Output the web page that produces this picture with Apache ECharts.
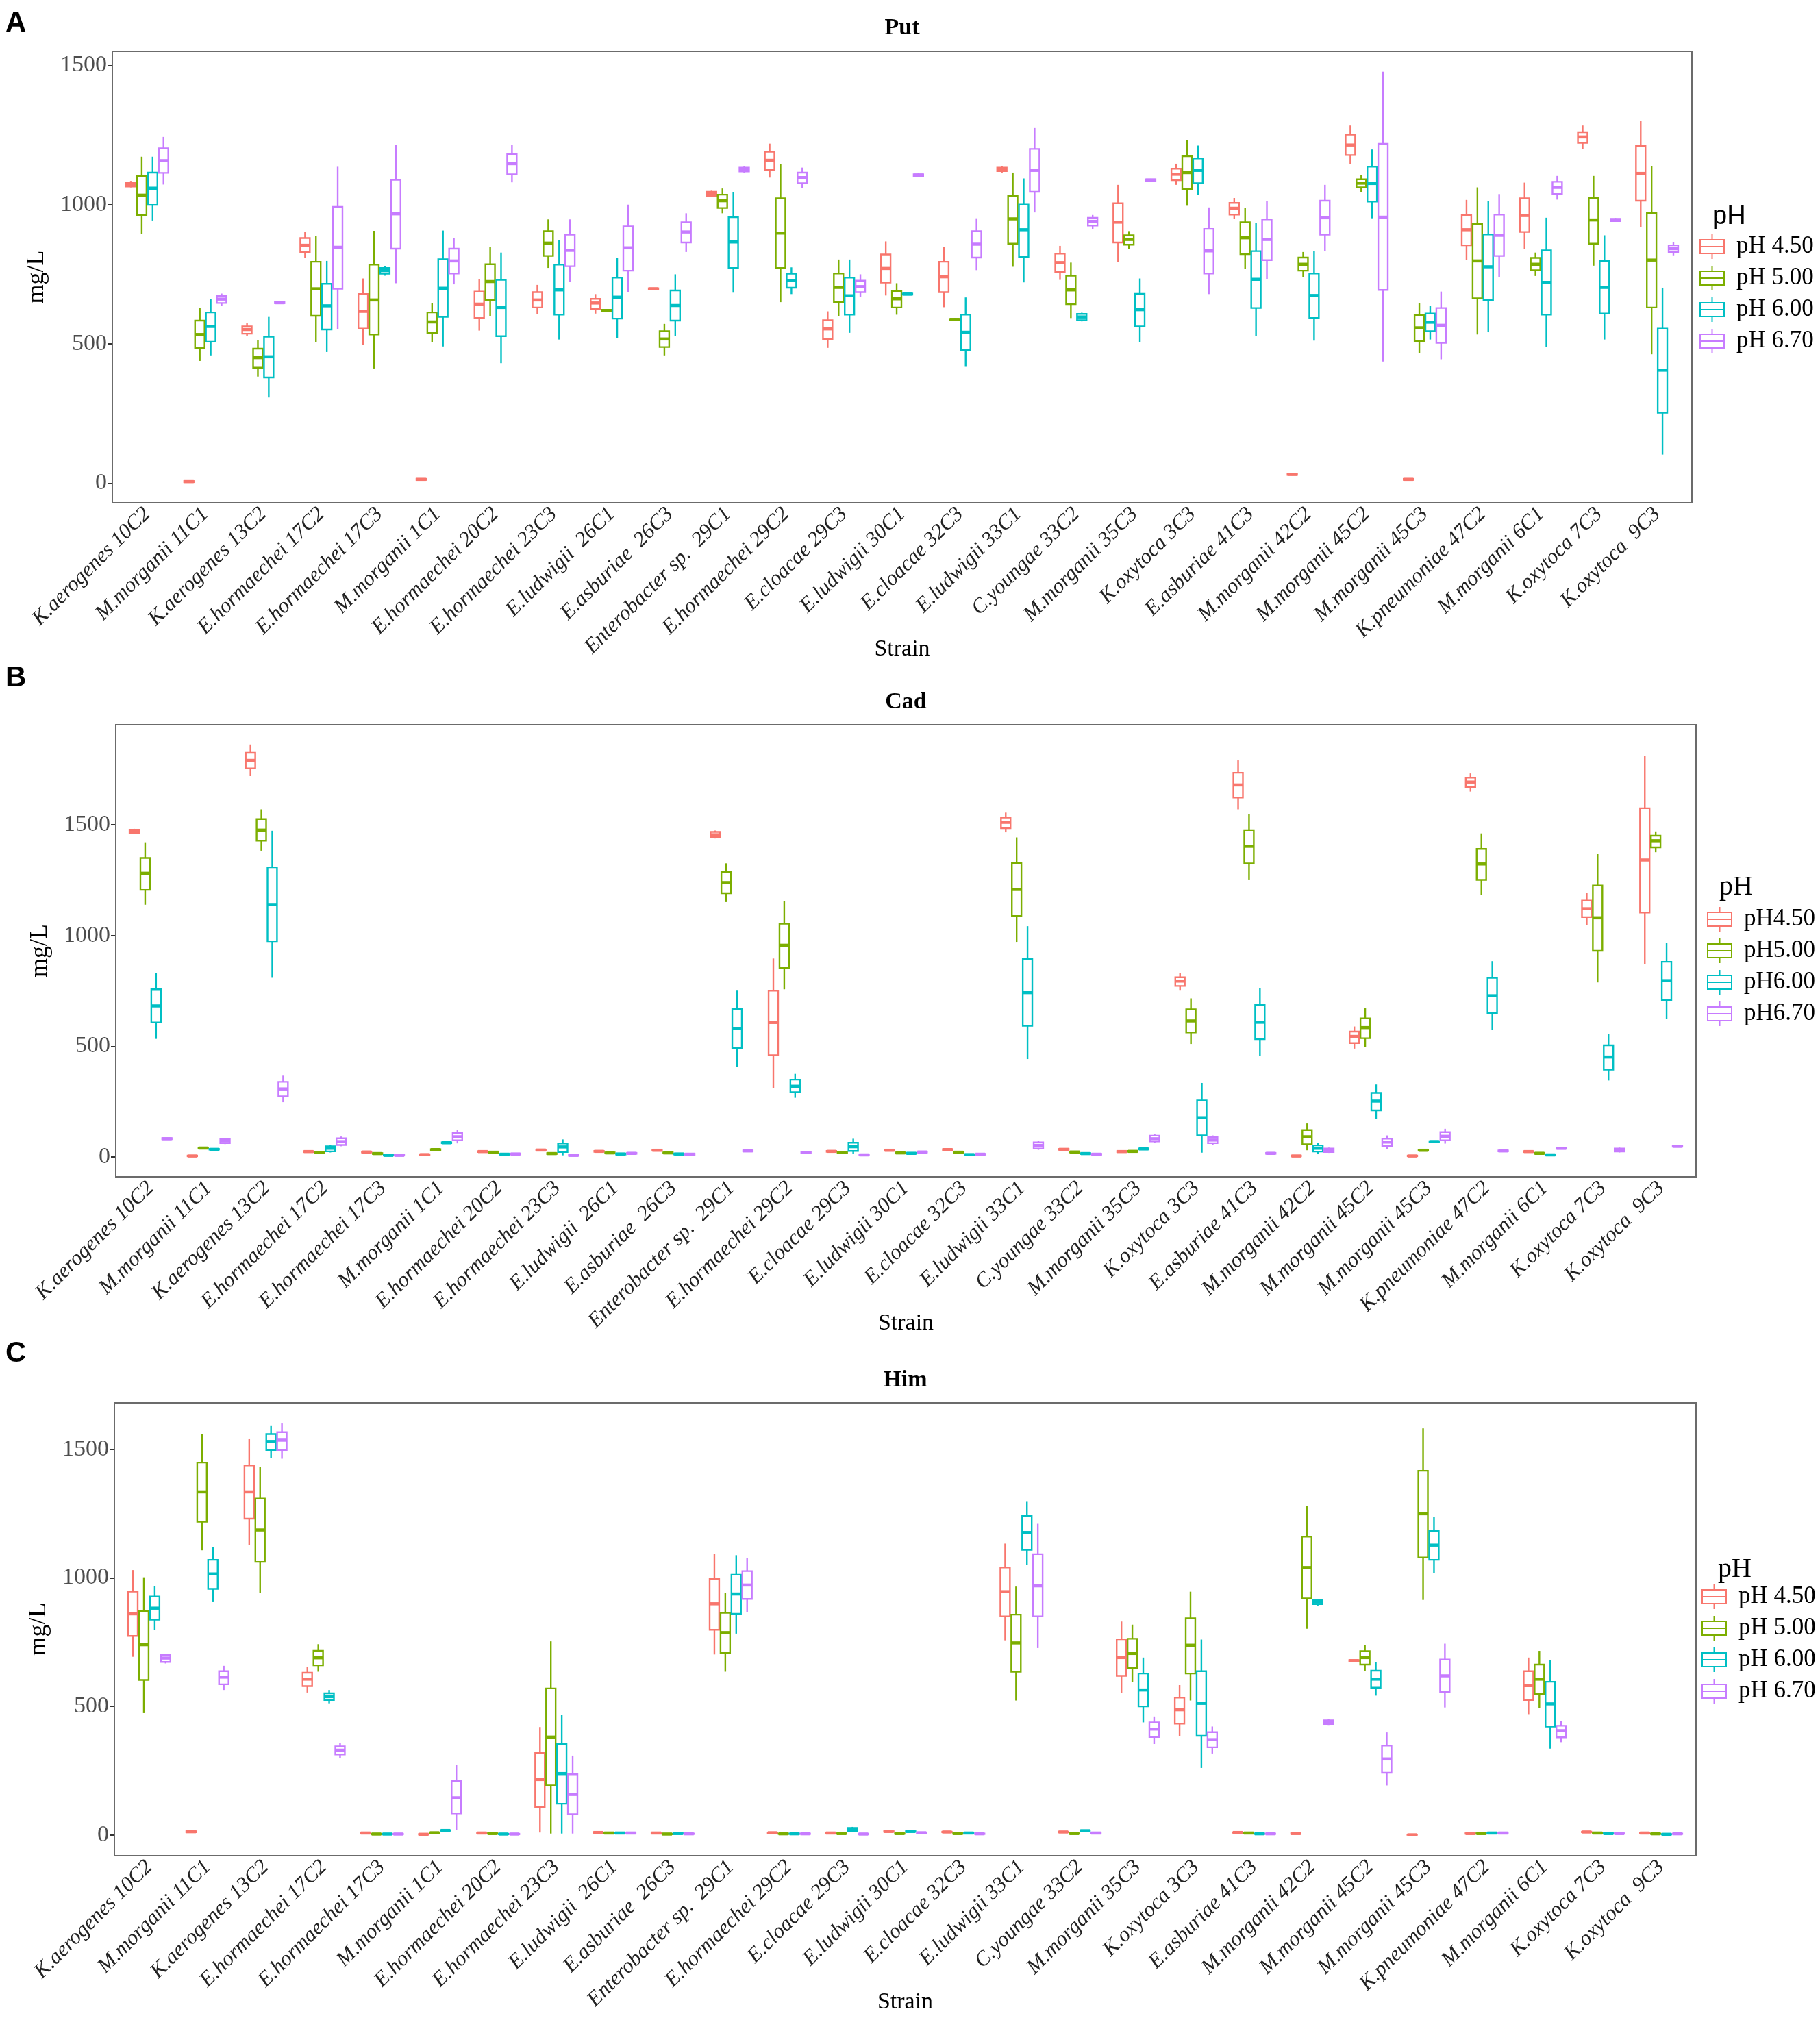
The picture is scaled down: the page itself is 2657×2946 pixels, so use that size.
<!DOCTYPE html>
<html>
<head>
<meta charset="utf-8">
<script src="https://cdn.jsdelivr.net/npm/echarts@6/dist/echarts.min.js"></script>
<style>
html, body { margin: 0; padding: 0; background: #fff; }
#chart { width: 2657px; height: 2946px; }
</style>
</head>
<body>
<div id="chart"></div>
<script>
// strains on the x axis (same order in all three panels)
var strains = ['K.aerogenes 10C2', 'M.morganii 11C1', 'K.aerogenes 13C2', 'E.hormaechei 17C2',
    'E.hormaechei 17C3', 'M.morganii 1C1', 'E.hormaechei 20C2', 'E.hormaechei 23C3',
    'E.ludwigii  26C1', 'E.asburiae  26C3', 'Enterobacter sp.  29C1', 'E.hormaechei 29C2',
    'E.cloacae 29C3', 'E.ludwigii 30C1', 'E.cloacae 32C3', 'E.ludwigii 33C1', 'C.youngae 33C2',
    'M.morganii 35C3', 'K.oxytoca 3C3', 'E.asburiae 41C3', 'M.morganii 42C2', 'M.morganii 45C2',
    'M.morganii 45C3', 'K.pneumoniae 47C2', 'M.morganii 6C1', 'K.oxytoca 7C3', 'K.oxytoca  9C3'];

var yTicks = [0, 500, 1000, 1500];
var phColors = ['#F8766D', '#7CAE00', '#00BFC4', '#C77CFF'];
var putNames = ['pH 4.50', 'pH 5.00', 'pH 6.00', 'pH 6.70'];
var cadNames = ['pH4.50', 'pH5.00', 'pH6.00', 'pH6.70'];
var himNames = ['pH 4.50', 'pH 5.00', 'pH 6.00', 'pH 6.70'];

// each row: [min, Q1, median, Q3, max] in mg/L, one row per strain
// Put
var put45 = [[1062,1065,1073,1080,1085],[2,4,6,8,10],[528,537,552,563,574],[810,830,854,880,902],
    [496,555,617,679,735],[10,12,14,16,18],[548,593,643,688,732],[607,631,658,686,712],
    [609,625,647,662,679],[694,696,698,700,702],[1028,1032,1040,1046,1050],[1097,1125,1159,1190,1219],
    [486,518,554,585,617],[674,720,771,821,868],[632,686,741,795,848],[1115,1120,1127,1133,1137],
    [730,759,792,824,852],[795,864,937,1005,1071],[1071,1088,1109,1129,1147],[949,964,987,1006,1024],
    [28,30,32,34,36],[1145,1178,1214,1251,1284],[10,12,14,16,18],[801,854,910,963,1017],
    [842,902,961,1023,1079],[1200,1222,1243,1260,1284],[919,1014,1112,1210,1301]];
var put50 = [[894,963,1034,1103,1172],[439,486,534,584,629],[383,415,451,483,514],[507,601,698,795,887],
    [412,534,658,785,906],[507,540,579,613,647],[599,658,724,786,848],[773,816,862,905,947],
    [615,617,620,623,625],[459,489,518,546,572],[969,988,1014,1036,1058],[650,773,898,1023,1145],
    [601,650,703,753,803],[605,631,662,690,718],[583,586,588,590,593],[777,860,949,1032,1115],
    [593,643,694,745,792],[842,856,875,890,905],[996,1056,1115,1174,1231],[769,822,881,937,988],
    [741,763,786,810,830],[1046,1062,1077,1091,1107],[466,510,558,603,647],[534,664,798,931,1062],
    [744,765,786,809,828],[781,860,945,1024,1103],[463,631,801,970,1139]];
var put60 = [[943,999,1059,1115,1172],[459,508,563,613,661],[308,380,454,526,597],[471,552,637,716,798],
    [745,752,763,773,780],[491,597,700,804,907],[431,528,631,730,828],[516,605,694,785,872],
    [520,591,668,738,810],[528,584,638,692,750],[684,773,866,955,1044],[679,702,728,752,775],
    [540,605,673,738,803],[676,677,679,681,682],[418,478,542,605,667],[721,813,910,1000,1094],
    [581,585,597,608,612],[507,563,623,680,735],[1034,1077,1123,1166,1212],[528,629,732,833,934],
    [512,593,674,753,833],[951,1011,1076,1136,1198],[516,546,578,609,638],[542,658,777,893,1012],
    [490,605,721,836,953],[516,609,703,798,890],[103,253,406,555,702]];
var put67 = [[1072,1114,1158,1202,1243],[638,647,661,673,681],[645,646,648,650,651],[554,698,847,992,1136],
    [718,842,967,1089,1214],[714,753,798,842,880],[1080,1109,1147,1182,1214],[724,779,836,892,947],
    [686,763,845,922,1000],[830,864,902,937,969],[1115,1119,1127,1133,1138],[1059,1077,1097,1115,1133],
    [670,686,706,727,750],[1100,1103,1106,1109,1112],[765,810,858,905,951],[972,1046,1123,1200,1275],
    [913,925,940,953,963],[1083,1085,1088,1091,1093],[679,753,834,913,990],[732,801,875,947,1014],
    [834,892,953,1014,1071],[437,694,955,1218,1477],[445,504,567,629,688],[741,816,890,964,1038],
    [1018,1038,1062,1082,1103],[938,941,945,949,952],[818,830,842,854,866]];

// Cad
var cad45 = [[1460,1463,1472,1478,1482],[2,3,4,6,7],[1720,1755,1791,1825,1863],[20,22,24,26,28],
    [18,20,22,24,26],[6,8,10,12,14],[20,22,24,26,28],[27,29,31,33,35],
    [21,23,25,27,29],[26,28,30,32,34],[1438,1444,1455,1468,1474],[312,459,607,751,896],
    [21,23,25,27,29],[26,28,30,32,34],[29,31,33,35,37],[1466,1485,1511,1533,1555],
    [30,32,34,36,38],[20,22,24,26,28],[754,772,794,811,829],[1570,1623,1680,1735,1791],
    [2,3,4,6,7],[489,514,544,566,589],[2,3,4,6,7],[1650,1671,1693,1713,1732],
    [20,22,24,26,28],[1046,1083,1121,1158,1191],[871,1103,1341,1575,1810]];
var cad50 = [[1139,1206,1281,1350,1421],[36,38,40,42,44],[1383,1428,1476,1526,1570],[15,17,19,21,23],
    [11,13,15,17,19],[29,31,33,35,37],[17,19,21,23,25],[11,13,15,17,19],
    [14,16,18,20,22],[14,16,18,20,22],[1151,1191,1239,1286,1326],[757,854,956,1053,1154],
    [15,17,19,21,23],[14,16,18,20,22],[17,19,21,23,25],[971,1088,1208,1328,1443],
    [18,20,22,24,26],[21,23,25,27,29],[510,562,614,667,716],[1253,1326,1403,1476,1548],
    [30,57,91,121,151],[495,536,584,626,671],[26,28,30,32,34],[1184,1251,1323,1391,1461],
    [12,14,16,18,20],[788,931,1080,1226,1368],[1376,1398,1428,1451,1470]];
var cad60 = [[533,607,682,757,832],[31,33,34,36,38],[809,974,1140,1308,1473],[20,25,39,48,55],
    [4,6,7,9,10],[60,62,64,66,68],[8,10,12,14,16],[7,22,45,61,79],
    [9,11,13,15,17],[9,11,13,15,17],[405,492,580,668,754],[267,292,319,349,375],
    [15,27,46,64,82],[12,14,16,18,20],[6,8,10,12,14],[442,592,742,893,1042],
    [11,13,15,17,19],[32,34,36,38,40],[19,97,177,255,334],[457,532,608,686,761],
    [12,24,39,52,64],[172,210,252,289,327],[65,67,69,71,73],[574,649,728,809,884],
    [5,7,9,11,13],[345,394,451,504,554],[623,709,796,881,967]];
var cad67 = [[78,80,82,85,87],[58,62,72,80,84],[247,274,307,339,367],[48,54,69,84,92],
    [4,6,7,9,10],[61,75,91,109,121],[9,11,13,15,17],[3,5,7,9,11],
    [12,14,16,18,20],[8,10,12,14,16],[23,25,27,29,31],[15,17,19,21,23],
    [5,7,9,11,13],[18,20,22,24,26],[8,10,12,14,16],[32,38,52,66,72],
    [8,10,12,14,16],[62,70,82,96,104],[55,62,76,90,97],[12,14,16,18,20],
    [18,22,31,38,42],[34,49,67,82,97],[60,75,93,112,127],[23,25,27,29,31],
    [35,37,39,41,43],[20,24,31,38,42],[44,46,48,50,52]];

// Him
var him45 = [[693,774,860,946,1030],[9,11,13,15,17],[1128,1230,1334,1437,1539],[554,579,606,631,654],
    [6,7,8,9,10],[1,2,3,4,5],[6,7,8,9,10],[10,109,216,319,420],
    [8,9,10,11,12],[6,7,8,9,10],[702,798,899,995,1094],[7,8,9,10,11],
    [6,7,8,9,10],[12,13,14,15,16],[10,11,12,13,14],[757,850,946,1040,1133],
    [10,11,12,13,14],[551,619,690,761,830],[386,433,487,534,583],[8,9,10,11,12],
    [4,5,6,7,8],[675,676,678,680,682],[0,1,1,2,3],[4,5,6,7,8],
    [470,525,581,637,690],[10,11,12,13,14],[6,7,8,9,10]];
var him50 = [[474,603,740,870,1002],[1107,1218,1334,1448,1559],[940,1062,1186,1308,1430],[635,660,689,716,742],
    [2,3,4,5,6],[7,8,9,10,11],[4,5,6,7,8],[6,193,381,570,753],
    [6,7,8,9,10],[2,3,4,5,6],[635,709,787,864,940],[3,4,5,6,7],
    [4,5,6,7,8],[4,5,6,7,8],[4,5,6,7,8],[523,635,747,857,966],
    [4,5,6,7,8],[596,650,706,763,818],[523,628,738,843,946],[6,7,8,9,10],
    [802,920,1040,1160,1278],[639,663,690,715,740],[914,1079,1249,1416,1581],[4,5,6,7,8],
    [493,548,606,663,716],[6,7,8,9,10],[3,4,5,6,7]];
var him60 = [[796,837,882,927,967],[908,957,1015,1070,1120],[1465,1497,1530,1559,1590],[512,525,538,551,564],
    [2,3,4,5,6],[16,17,18,19,20],[2,3,4,5,6],[6,122,239,354,467],
    [6,7,8,9,10],[4,5,6,7,8],[783,860,937,1012,1088],[3,4,5,6,7],
    [12,15,22,28,32],[12,13,14,15,16],[6,7,8,9,10],[1049,1109,1176,1240,1298],
    [15,16,17,18,19],[438,500,564,628,690],[261,386,512,637,760],[3,4,5,6,7],
    [892,898,906,913,918],[542,573,606,639,671],[1017,1070,1127,1182,1237],[6,7,8,9,10],
    [336,422,510,596,680],[4,5,6,7,8],[1,2,3,4,5]];
var him67 = [[667,673,688,700,705],[564,586,614,637,658],[1463,1497,1535,1566,1600],[300,313,330,345,358],
    [2,3,4,5,6],[21,84,145,210,272],[2,3,4,5,6],[6,81,158,236,309],
    [6,7,8,9,10],[3,4,5,6,7],[866,918,972,1026,1076],[3,4,5,6,7],
    [2,3,4,5,6],[7,8,9,10,11],[3,4,5,6,7],[727,850,969,1092,1210],
    [6,7,8,9,10],[354,381,412,438,461],[317,341,371,400,422],[3,4,5,6,7],
    [428,432,439,446,450],[193,242,296,348,399],[496,557,619,682,744],[6,7,8,9,10],
    [361,380,406,425,444],[4,5,6,7,8],[3,4,5,6,7]];

// panel layout (pixel boxes of the framed plot areas)
var panels = [
    { letter: 'A', letterY: 34, title: 'Put', titleY: 41, names: putNames, sets: [put45, put50, put60, put67],
      box: [164, 75, 2470, 734], yMin: -70, yMax: 1550,
      legendX: 2481, legendY: 341, phX: 2500, phY: 317, phFont: '38px "Liberation Sans"' },
    { letter: 'B', letterY: 990, title: 'Cad', titleY: 1025, names: cadNames, sets: [cad45, cad50, cad60, cad67],
      box: [169, 1058, 2476, 1718], yMin: -90, yMax: 1952,
      legendX: 2492, legendY: 1323, phX: 2510, phY: 1295, phFont: '40px "Liberation Serif"' },
    { letter: 'C', letterY: 1976, title: 'Him', titleY: 2015, names: himNames, sets: [him45, him50, him60, him67],
      box: [167, 2048, 2476, 2709], yMin: -80, yMax: 1680,
      legendX: 2484, legendY: 2312, phX: 2508, phY: 2291, phFont: '40px "Liberation Serif"' }
];

var serif = 'Liberation Serif';
// key glyph: 35x20 box with median and short whiskers
var legendIcon = 'path://M17.5,0L17.5,8M0,8L35,8L35,28L0,28ZM0,18L35,18M17.5,28L17.5,36';

// ggplot-like dodged box: 4 slots share 75% of the band, no whisker caps
function makeBox(slot) {
    var col = phColors[slot];
    return function (params, api) {
        var i = api.value(0);
        var band = api.size([1, 0])[0];
        var w = band * 0.75 / 4;
        var cx = api.coord([i, 0])[0] + (slot - 1.5) * w;
        var y = [1, 2, 3, 4, 5].map(function (d) { return api.coord([i, api.value(d)])[1]; });
        var line = { stroke: col, lineWidth: 2.4 };
        return {
            type: 'group',
            children: [
                { type: 'line', shape: { x1: cx, y1: y[4], x2: cx, y2: y[3] }, style: line },
                { type: 'line', shape: { x1: cx, y1: y[1], x2: cx, y2: y[0] }, style: line },
                { type: 'rect', shape: { x: cx - w / 2 + 1, y: y[3], width: w - 2, height: y[1] - y[3] },
                  style: { fill: '#fff', stroke: col, lineWidth: 2.4 } },
                { type: 'line', shape: { x1: cx - w / 2 + 1, y1: y[2], x2: cx + w / 2 - 1, y2: y[2] },
                  style: { stroke: col, lineWidth: 4.5 } }
            ]
        };
    };
}

var option = {
    backgroundColor: '#fff',
    animation: false,
    grid: [], xAxis: [], yAxis: [], series: [], legend: [], graphic: []
};

// ggplot expands a discrete axis 0.6 units each side; echarts gives 0.5, so inset the grid by 0.1
panels.forEach(function (p, pi) {
    var b = p.box;
    var unit = (b[2] - b[0]) / 27.2;
    var inset = unit * 0.1;
    option.grid.push({
        left: b[0] + inset, top: b[1], width: b[2] - b[0] - 2 * inset, height: b[3] - b[1],
        show: false, containLabel: false
    });
    option.xAxis.push({
        type: 'category', gridIndex: pi, data: strains,
        name: 'Strain', nameLocation: 'middle', nameGap: 197, nameMoveOverlap: false,
        nameTextStyle: { fontFamily: serif, fontSize: 34, color: '#000' },
        axisLine: { show: false },
        axisTick: { alignWithLabel: true, length: 7, lineStyle: { color: '#333', width: 2 } },
        axisLabel: { rotate: 45, interval: 0, margin: 12, fontFamily: serif, fontStyle: 'italic',
            fontSize: 31, color: '#222' },
        splitLine: { show: false }
    });
    option.yAxis.push({
        type: 'value', gridIndex: pi, min: p.yMin, max: p.yMax, offset: inset,
        name: 'mg/L', nameLocation: 'middle', nameGap: 92, nameMoveOverlap: false,
        nameTextStyle: { fontFamily: serif, fontSize: 36, color: '#000' },
        axisLine: { show: false },
        axisTick: { show: true, length: 7, customValues: yTicks, lineStyle: { color: '#333', width: 2 } },
        axisLabel: { customValues: yTicks, margin: 8, fontFamily: serif, fontSize: 34, color: '#4d4d4d',
            formatter: function (v) { return String(v); } },
        splitLine: { show: false }
    });
    p.sets.forEach(function (rows, k) {
        option.series.push({
            type: 'custom', name: p.names[k], xAxisIndex: pi, yAxisIndex: pi,
            itemStyle: { color: '#fff', borderColor: phColors[k], borderWidth: 2 },
            encode: { x: 0, y: [1, 2, 3, 4, 5] },
            data: rows.map(function (r, i) { return [i].concat(r); }),
            renderItem: makeBox(k)
        });
    });
    option.legend.push({
        orient: 'vertical', left: p.legendX, top: p.legendY, padding: 0,
        itemGap: 8, itemWidth: 61, itemHeight: 36, icon: legendIcon, selectedMode: false,
        textStyle: { fontFamily: serif, fontSize: 35, lineHeight: 36, color: '#000' },
        data: p.names.map(function (n, k) {
            return { name: n, itemStyle: { color: '#fff', borderColor: phColors[k], borderWidth: 2 } };
        })
    });
    // frame, panel letter, title, legend title
    option.graphic.push(
        { type: 'rect', z: 50, silent: true,
          shape: { x: b[0], y: b[1], width: b[2] - b[0], height: b[3] - b[1] },
          style: { fill: null, stroke: '#6b6b6b', lineWidth: 2 } },
        { type: 'text', x: 8, y: p.letterY,
          style: { text: p.letter, font: 'bold 42px "Liberation Sans"', fill: '#000',
                   textAlign: 'left', textVerticalAlign: 'middle' } },
        { type: 'text', x: (b[0] + b[2]) / 2, y: p.titleY,
          style: { text: p.title, font: 'bold 34px "Liberation Serif"', fill: '#000',
                   textAlign: 'center', textVerticalAlign: 'middle' } },
        { type: 'text', x: p.phX, y: p.phY,
          style: { text: 'pH', font: p.phFont, fill: '#000',
                   textAlign: 'left', textVerticalAlign: 'middle' } }
    );
});

var myChart = echarts.init(document.getElementById('chart'));
myChart.setOption(option);
</script>
</body>
</html>
